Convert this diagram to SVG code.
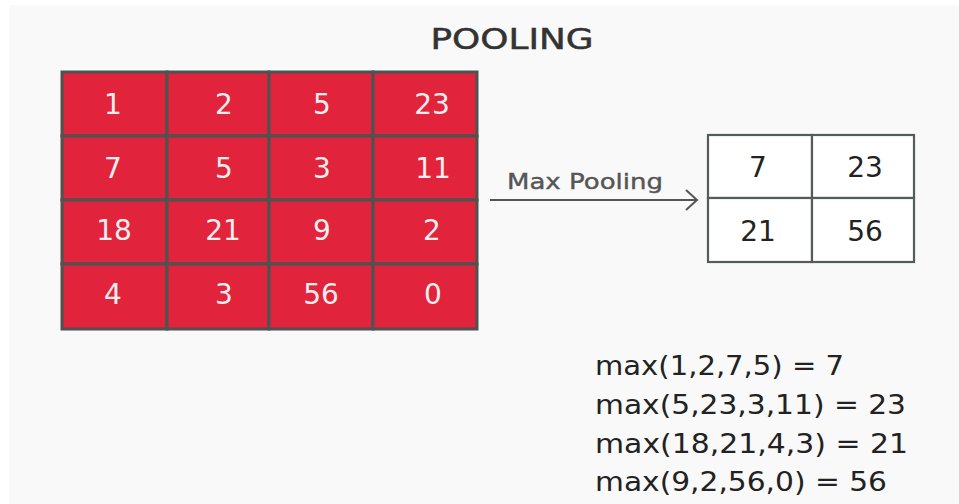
<svg xmlns="http://www.w3.org/2000/svg" width="959" height="504" viewBox="0 0 959 504">
  <defs>
    <style>
      .cell { fill: #e1233b; stroke: #4b5353; stroke-width: 3; }
      .num { font-family: "DejaVu Sans", Verdana, sans-serif; font-size: 28px; fill: #fbeeee; text-anchor: middle; }
      .out { fill: #ffffff; stroke: #555a5a; stroke-width: 2.2; }
      .onum { font-family: "DejaVu Sans", Verdana, sans-serif; font-size: 28px; fill: #222222; text-anchor: middle; }
      .eq { font-family: "DejaVu Sans", Verdana, sans-serif; font-size: 27px; fill: #222222; }
      .title { font-family: "DejaVu Sans", Verdana, sans-serif; font-size: 28px; fill: #333333; stroke: #333333; stroke-width: 0.5; text-anchor: middle; }
      .lbl { font-family: "DejaVu Sans", Verdana, sans-serif; font-size: 22px; fill: #555555; stroke: #555555; stroke-width: 0.4; }
      .conn { stroke: #555555; stroke-width: 2; fill: none; }
    </style>
    <marker id="arrow" markerWidth="14" markerHeight="22" refX="12" refY="11" orient="auto" markerUnits="userSpaceOnUse">
      <path d="M1,1 L12,11 L1,21" fill="none" stroke="#555555" stroke-width="2"/>
    </marker>
  </defs>
  <rect x="0" y="0" width="959" height="504" fill="#ffffff"/>
  <rect x="9" y="5" width="950" height="499" fill="#f9f9f9"/>
  <text class="title" x="512" y="49" textLength="163" lengthAdjust="spacingAndGlyphs">POOLING</text>

  <g id="input-grid">
    <rect class="cell" x="62" y="72" width="105" height="64"/>
    <rect class="cell" x="167" y="72" width="102" height="64"/>
    <rect class="cell" x="269" y="72" width="104" height="64"/>
    <rect class="cell" x="373" y="72" width="104" height="64"/>
    <rect class="cell" x="62" y="136" width="105" height="64"/>
    <rect class="cell" x="167" y="136" width="102" height="64"/>
    <rect class="cell" x="269" y="136" width="104" height="64"/>
    <rect class="cell" x="373" y="136" width="104" height="64"/>
    <rect class="cell" x="62" y="200" width="105" height="64"/>
    <rect class="cell" x="167" y="200" width="102" height="64"/>
    <rect class="cell" x="269" y="200" width="104" height="64"/>
    <rect class="cell" x="373" y="200" width="104" height="64"/>
    <rect class="cell" x="62" y="264" width="105" height="65"/>
    <rect class="cell" x="167" y="264" width="102" height="65"/>
    <rect class="cell" x="269" y="264" width="104" height="65"/>
    <rect class="cell" x="373" y="264" width="104" height="65"/>
    <text class="num" x="113" y="114">1</text>
    <text class="num" x="224" y="114">2</text>
    <text class="num" x="322" y="114">5</text>
    <text class="num" x="432" y="114">23</text>
    <text class="num" x="113" y="178">7</text>
    <text class="num" x="224" y="178">5</text>
    <text class="num" x="322" y="178">3</text>
    <text class="num" x="433" y="178">11</text>
    <text class="num" x="114" y="240">18</text>
    <text class="num" x="223" y="240">21</text>
    <text class="num" x="322" y="240">9</text>
    <text class="num" x="432" y="240">2</text>
    <text class="num" x="113" y="304">4</text>
    <text class="num" x="224" y="304">3</text>
    <text class="num" x="321" y="304">56</text>
    <text class="num" x="433" y="304">0</text>
  </g>

  <g id="connectors">
    <line class="conn" x1="490" y1="200" x2="697" y2="200" marker-end="url(#arrow)"/>
    <text class="lbl" x="507" y="189" textLength="156" lengthAdjust="spacingAndGlyphs">Max Pooling</text>
  </g>

  <g id="output-grid">
    <rect class="out" x="708" y="135" width="104" height="63"/>
    <rect class="out" x="812" y="135" width="102" height="63"/>
    <rect class="out" x="708" y="198" width="104" height="64"/>
    <rect class="out" x="812" y="198" width="102" height="64"/>
    <text class="onum" x="758" y="177">7</text>
    <text class="onum" x="865" y="177">23</text>
    <text class="onum" x="758" y="241">21</text>
    <text class="onum" x="865" y="241">56</text>
  </g>

  <g id="equations">
    <text class="eq" x="595" y="375" textLength="249" lengthAdjust="spacingAndGlyphs">max(1,2,7,5) = 7</text>
    <text class="eq" x="595" y="414" textLength="311" lengthAdjust="spacingAndGlyphs">max(5,23,3,11) = 23</text>
    <text class="eq" x="595" y="453" textLength="313" lengthAdjust="spacingAndGlyphs">max(18,21,4,3) = 21</text>
    <text class="eq" x="595" y="491" textLength="292" lengthAdjust="spacingAndGlyphs">max(9,2,56,0) = 56</text>
  </g>
</svg>
